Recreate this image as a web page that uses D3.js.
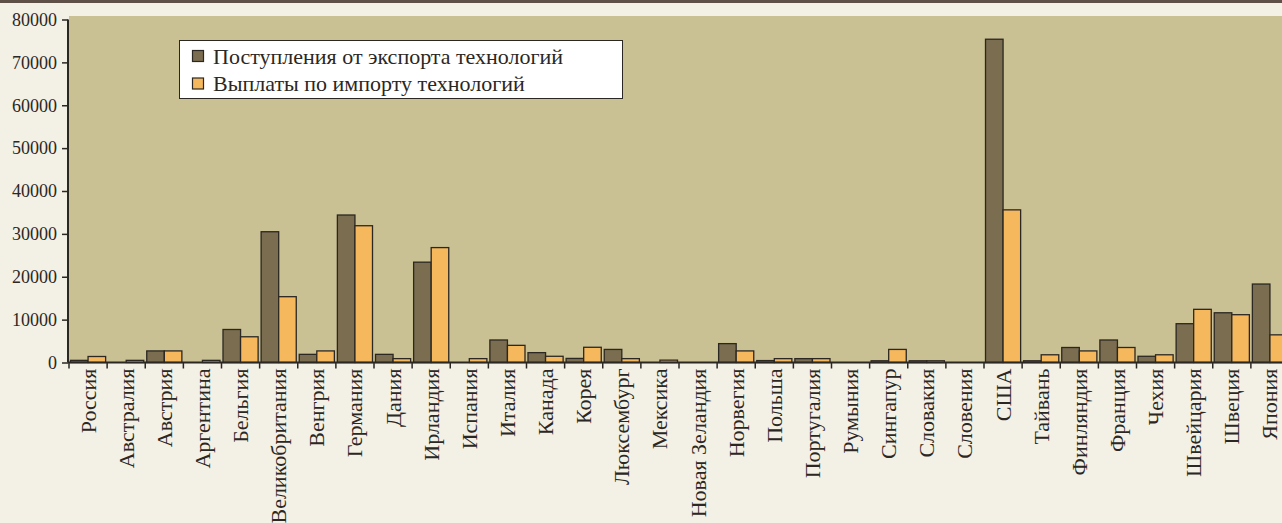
<!DOCTYPE html>
<html lang="ru">
<head>
    <meta charset="UTF-8">
    <script src="https://d3js.org/d3.v7.min.js"></script>
    <title>Технологический обмен</title>
    <style>
        html,
        body {
            margin: 0px;
            padding: 0px;
            background-color: #f3f0e6;
            overflow: hidden;
        }
        svg text {
            font-family: "Liberation Serif", "DejaVu Serif", serif;
            fill: #2b2723;
        }
    </style>
</head>
<body>
    <div id="chart"></div>
    <script>

        const countries = ['Россия', 'Австралия', 'Австрия', 'Аргентина', 'Бельгия', 'Великобритания',
            'Венгрия', 'Германия', 'Дания', 'Ирландия', 'Испания', 'Италия', 'Канада', 'Корея',
            'Люксембург', 'Мексика', 'Новая Зеландия', 'Норвегия', 'Польша', 'Португалия', 'Румыния',
            'Сингапур', 'Словакия', 'Словения', 'США', 'Тайвань', 'Финляндия', 'Франция', 'Чехия',
            'Швейцария', 'Швеция', 'Япония'];

        // поступления от экспорта технологий
        const exportValues = [500, 0, 2700, 0, 7700, 30500, 1900, 34400, 1900, 23400, 0, 5250, 2300, 950,
            3050, 0, 0, 4400, 450, 900, 0, 400, 400, 0, 75400, 400, 3500, 5250, 1450, 9050, 11600, 18300];

        // выплаты по импорту технологий
        const importValues = [1400, 500, 2700, 500, 6000, 15350, 2700, 31900, 900, 26800, 900, 4000, 1450, 3550,
            900, 550, 0, 2700, 900, 900, 0, 3050, 400, 0, 35600, 1800, 2700, 3500, 1800, 12400, 11150, 6450];

        const series = ['Поступления от экспорта технологий', 'Выплаты по импорту технологий'];
        const colors = ['#7b6d4f', '#f5b85d'];
        const yTicks = [0, 10000, 20000, 30000, 40000, 50000, 60000, 70000, 80000];

        const width = 1282;
        const height = 523;

        const svg = d3.select('#chart').append('svg')
            .attr('width', width)
            .attr('height', height);

        // тёмная полоса сверху
        svg.append('rect')
            .attr('x', 0).attr('y', 0)
            .attr('width', width).attr('height', 3)
            .attr('fill', '#5e4f47');

        const x = d3.scaleBand().domain(countries).range([69, 1289]);
        const xSub = d3.scaleBand().domain([0, 1]).range([1.5, x.bandwidth() - 1.5]);
        const y = d3.scaleLinear().domain([0, 80000]).range([362.5, 19.5]);

        svg.append('rect')
            .attr('x', 69).attr('y', 16)
            .attr('width', 1289 - 69).attr('height', y(0) - 16)
            .attr('fill', '#c9c093');

        const groups = svg.append('g').selectAll('g')
            .data(countries)
            .join('g')
            .attr('transform', d => `translate(${x(d)},0)`);

        groups.selectAll('rect')
            .data((d, i) => [exportValues[i], importValues[i]])
            .join('rect')
            .attr('x', (d, j) => xSub(j))
            .attr('y', d => y(d))
            .attr('width', xSub.bandwidth())
            .attr('height', d => y(0) - y(d))
            .attr('fill', (d, j) => colors[j])
            .attr('stroke', '#2b2723')
            .attr('stroke-width', 1.3)
            .attr('display', d => d > 0 ? null : 'none');

        // ось Y
        const yAxis = svg.append('g')
            .attr('transform', 'translate(68,0)')
            .call(d3.axisLeft(y).tickValues(yTicks).tickSize(6).tickPadding(5).tickFormat(d3.format('d')));
        yAxis.select('.domain').attr('stroke', '#2b2723').attr('stroke-width', 2)
            .attr('d', `M0,${y(80000)}V${y(0)}`);
        yAxis.selectAll('.tick line').attr('stroke', '#2b2723').attr('stroke-width', 1.5);
        yAxis.selectAll('.tick text').attr('font-size', 18);

        // ось X
        const xAxis = svg.append('g')
            .attr('transform', `translate(0,${y(0)})`)
            .call(d3.axisBottom(x).tickSize(0).tickFormat(''));
        xAxis.select('.domain').attr('stroke', '#2b2723').attr('stroke-width', 2)
            .attr('d', `M68,0H1289`);

        svg.append('g').selectAll('line')
            .data(countries)
            .join('line')
            .attr('x1', d => x(d)).attr('x2', d => x(d))
            .attr('y1', y(0)).attr('y2', y(0) + 6)
            .attr('stroke', '#2b2723')
            .attr('stroke-width', 1.5);

        svg.append('g').selectAll('text')
            .data(countries)
            .join('text')
            .attr('transform', d => `translate(${x(d) + x.bandwidth() / 2 + 7.5},${y(0) + 6}) rotate(-90)`)
            .attr('text-anchor', 'end')
            .attr('font-size', 22)
            .text(d => d);

        // легенда
        const legend = svg.append('g').attr('transform', 'translate(179,40)');
        legend.append('rect')
            .attr('x', 0.5).attr('y', 0.5)
            .attr('width', 443).attr('height', 58)
            .attr('fill', '#ffffff')
            .attr('stroke', '#2b2723')
            .attr('stroke-width', 1);

        const items = legend.selectAll('g.item')
            .data(series)
            .join('g')
            .attr('class', 'item')
            .attr('transform', (d, i) => `translate(13,${16 + i * 27.5})`);
        items.append('rect')
            .attr('x', 0.5).attr('y', -5.5)
            .attr('width', 11).attr('height', 11)
            .attr('fill', (d, i) => colors[i])
            .attr('stroke', '#2b2723')
            .attr('stroke-width', 1.2);
        items.append('text')
            .attr('x', 21).attr('y', 0)
            .attr('dy', '0.35em')
            .attr('font-size', 22)
            .text(d => d);

    </script>
</body>
</html>
